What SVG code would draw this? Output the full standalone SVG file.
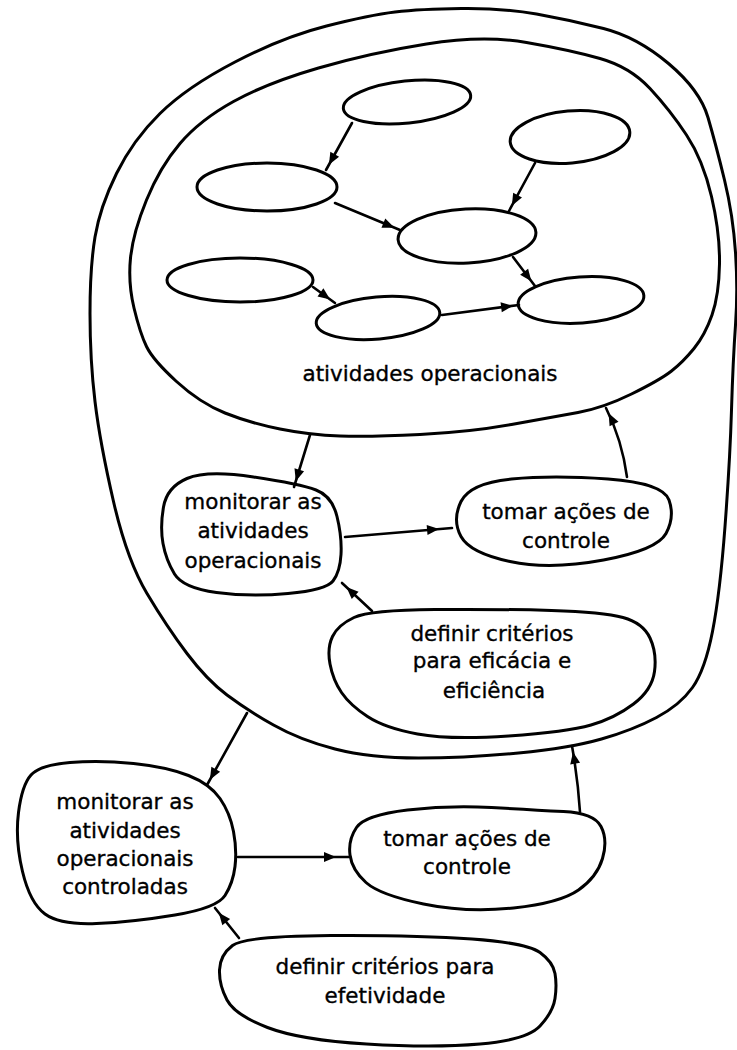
<svg xmlns="http://www.w3.org/2000/svg" width="737" height="1050" viewBox="0 0 737 1050">
  <defs>
    <style>
      .shape { fill: none; stroke: #000; stroke-width: 3; stroke-linejoin: round; stroke-linecap: round; }
      .blob { fill: #fff; stroke: #000; stroke-width: 3; stroke-linejoin: round; }
      .edge { fill: none; stroke: #000; stroke-width: 2.6; stroke-linecap: round; marker-end: url(#head); }
      .edge-far { fill: none; stroke: #000; stroke-width: 2.6; stroke-linecap: round; marker-end: url(#headFar); }
      .lbl { font-family: "DejaVu Sans", "Liberation Sans", sans-serif; font-size: 21.5px; fill: #000; stroke: #000; stroke-width: 0.35; text-anchor: middle; }
    </style>
    <!-- filled head drawn a little short of the line end -->
    <marker id="head" markerUnits="userSpaceOnUse" markerWidth="12" markerHeight="10" viewBox="0 0 12 10" refX="18" refY="5" orient="auto" overflow="visible">
      <path d="M0,0 L12,5 L0,10 Z" fill="#000"/>
    </marker>
    <marker id="headFar" markerUnits="userSpaceOnUse" markerWidth="12" markerHeight="10" viewBox="0 0 12 10" refX="25" refY="5" orient="auto" overflow="visible">
      <path d="M0,0 L12,5 L0,10 Z" fill="#000"/>
    </marker>
  </defs>

  <rect width="737" height="1050" fill="#fff"/>

  <!-- outer boundary: controlled operational activities -->
  <g id="outer-boundary">
    <path class="shape" d="M461.5,8.5 Q503,8 536.5,14 Q570,20 603.5,28.5 Q637,37 668.5,63.5 Q700,90 708,117.5 Q716,145 724.5,180 Q733,215 735.5,252.5 Q738,290 735.5,325 Q733,360 731.5,410 Q730,460 725,526.5 Q720,593 712.5,631.5 Q705,670 692.5,687.5 Q680,705 656.5,717.5 Q633,730 601.5,739 Q570,748 518.5,753 Q467,758 418.5,758 Q370,758 335,749 Q300,740 273.5,725 Q247,710 227,695 Q207,680 187,653.5 Q167,627 147,593.5 Q127,560 113.5,501.5 Q100,443 95,401.5 Q90,360 90,313.5 Q90,267 95,237 Q100,207 116.5,173.5 Q133,140 160,113.5 Q187,87 235,62 Q283,37 326.5,26 Q370,15 395,12 Q420,9 461.5,8.5 Z"/>
  </g>

  <!-- inner boundary: operational activities -->
  <g id="operational-activities">
    <path class="shape" d="M526.5,42.5 Q570,50 600,58.5 Q630,67 650,88.5 Q670,110 686.5,135 Q703,160 711.5,196.5 Q720,233 719.5,264 Q719,295 712,315 Q705,335 694,348.5 Q683,362 671.5,371 Q660,380 631.5,394 Q603,408 578,412.5 Q553,417 511.5,424.5 Q470,432 420,434.5 Q370,437 340,436 Q310,435 280,429 Q250,423 225,413 Q200,403 176.5,381.5 Q153,360 146.5,346.5 Q140,333 134,308 Q128,283 130.5,258 Q133,233 146.5,200 Q160,167 180,143.5 Q200,120 233.5,101.5 Q267,83 318.5,68 Q370,53 426.5,44 Q483,35 526.5,42.5 Z"/>
    <text class="lbl" x="430" y="381">atividades operacionais</text>
  </g>

  <!-- activity ellipses -->
  <g id="act-a"><ellipse class="shape" cx="407" cy="102" rx="64" ry="21" transform="rotate(-6 407 102)"/></g>
  <g id="act-b"><ellipse class="shape" cx="267" cy="187" rx="70" ry="24"/></g>
  <g id="act-c"><ellipse class="shape" cx="240" cy="280" rx="73" ry="22"/></g>
  <g id="act-d"><ellipse class="shape" cx="378" cy="318" rx="62" ry="21" transform="rotate(-5 378 318)"/></g>
  <g id="act-e"><ellipse class="shape" cx="570" cy="137" rx="60" ry="26" transform="rotate(-5 570 137)"/></g>
  <g id="act-f"><ellipse class="shape" cx="467" cy="236" rx="69" ry="27" transform="rotate(-3 467 236)"/></g>
  <g id="act-g"><ellipse class="shape" cx="581" cy="300" rx="63" ry="23" transform="rotate(-4 581 300)"/></g>

  <!-- inner control loop -->
  <g id="monitor-inner">
    <path class="blob" d="M253.5,477 Q300,484 316,490 Q332,496 337,516.5 Q342,537 341,554.5 Q340,572 333,581 Q326,590 288,593.5 Q250,597 216.5,592.5 Q183,588 174.5,574 Q166,560 163,543.5 Q160,527 163.5,507 Q167,487 187,478.5 Q207,470 253.5,477 Z"/>
    <text class="lbl" x="253" y="509">monitorar as</text>
    <text class="lbl" x="253" y="538">atividades</text>
    <text class="lbl" x="253" y="568">operacionais</text>
  </g>
  <g id="act-inner">
    <path class="blob" d="M608,479 Q663,483 669,500 Q675,517 666,533.5 Q657,550 603.5,560 Q550,570 510,561.5 Q470,553 461,536.5 Q452,520 461,501.5 Q470,483 511.5,479 Q553,475 608,479 Z"/>
    <text class="lbl" x="566" y="519">tomar ações de</text>
    <text class="lbl" x="566" y="548">controle</text>
  </g>
  <g id="criteria-inner">
    <path class="blob" d="M435,609.5 Q500,609 551.5,610.5 Q603,612 623,617.5 Q643,623 650,638 Q657,653 654.5,671.5 Q652,690 633.5,704 Q615,718 591,725 Q567,732 508.5,736 Q450,740 417.5,734 Q385,728 367.5,716.5 Q350,705 341.5,692.5 Q333,680 330,664 Q327,648 332.5,636.5 Q338,625 354,617.5 Q370,610 435,609.5 Z"/>
    <text class="lbl" x="492" y="641">definir critérios</text>
    <text class="lbl" x="492" y="668">para eficácia e</text>
    <text class="lbl" x="494" y="698">eficiência</text>
  </g>

  <!-- outer control loop -->
  <g id="monitor-outer">
    <path class="blob" d="M133.5,763.5 Q167,767 188.5,775.5 Q210,784 220,798.5 Q230,813 233.5,831.5 Q237,850 235,866.5 Q233,883 225,895.5 Q217,908 175,915 Q133,922 96.5,923.5 Q60,925 45,914 Q30,903 22.5,871.5 Q15,840 18.5,812.5 Q22,785 31,775 Q40,765 70,762.5 Q100,760 133.5,763.5 Z"/>
    <text class="lbl" x="125" y="809">monitorar as</text>
    <text class="lbl" x="125" y="838">atividades</text>
    <text class="lbl" x="125" y="866">operacionais</text>
    <text class="lbl" x="125" y="894">controladas</text>
  </g>
  <g id="act-outer">
    <path class="blob" d="M491.5,807.5 Q533,810 563.5,811.5 Q594,813 601,826.5 Q608,840 602.5,858.5 Q597,877 578.5,890 Q560,903 513.5,908 Q467,913 423.5,904 Q380,895 366,882.5 Q352,870 350,855 Q348,840 356.5,827.5 Q365,815 407.5,810 Q450,805 491.5,807.5 Z"/>
    <text class="lbl" x="467" y="846">tomar ações de</text>
    <text class="lbl" x="467" y="874">controle</text>
  </g>
  <g id="criteria-outer">
    <path class="blob" d="M331,935.5 Q417,935 472,939 Q527,943 540,952.5 Q553,962 555,973.5 Q557,985 555,998.5 Q553,1012 540,1026 Q527,1040 480,1044 Q433,1048 366.5,1044 Q300,1040 267.5,1027.5 Q235,1015 227,1000 Q219,985 219.5,970 Q220,955 232.5,945.5 Q245,936 331,935.5 Z"/>
    <text class="lbl" x="385" y="974">definir critérios para</text>
    <text class="lbl" x="385" y="1003">efetividade</text>
  </g>

  <!-- connectors -->
  <g id="connectors">
    <line class="edge" x1="352" y1="123" x2="326" y2="170"/>
    <line class="edge" x1="335" y1="203" x2="400" y2="230"/>
    <line class="edge" x1="535" y1="163" x2="509" y2="211"/>
    <line class="edge" x1="513" y1="257" x2="535" y2="286"/>
    <line class="edge" x1="313" y1="287" x2="335" y2="303"/>
    <line class="edge" x1="442" y1="315" x2="519" y2="305"/>

    <line class="edge" x1="310" y1="435" x2="294" y2="487"/>
    <line class="edge-far" x1="345" y1="537" x2="452" y2="528"/>
    <path class="edge" d="M627,477 Q622,440 606,408"/>
    <line class="edge" x1="372" y1="611" x2="342" y2="583"/>

    <line class="edge" x1="247" y1="713" x2="207" y2="785"/>
    <line class="edge-far" x1="238" y1="857" x2="349" y2="857"/>
    <path class="edge" d="M580,812 Q578,780 572,746"/>
    <line class="edge" x1="239" y1="938" x2="215" y2="908"/>
  </g>
</svg>
